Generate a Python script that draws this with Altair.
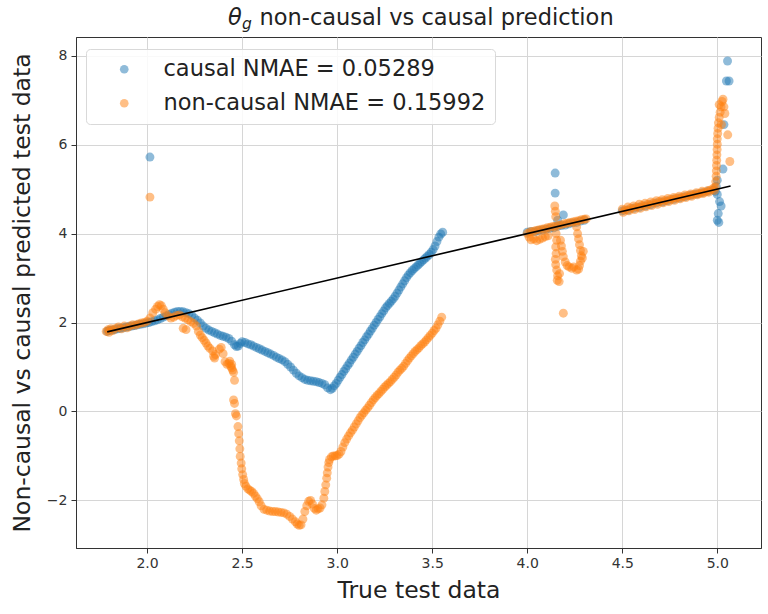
import altair as alt
import pandas as pd

CAUSAL_LABEL = "causal NMAE = 0.05289"
NONCAUSAL_LABEL = "non-causal NMAE = 0.15992"
SERIES = [CAUSAL_LABEL, NONCAUSAL_LABEL]
COLORS = ["#1f77b4", "#ff7f0e"]

x_ticks = [2.0, 2.5, 3.0, 3.5, 4.0, 4.5, 5.0]
y_ticks = [-2, 0, 2, 4, 6, 8]

# ---- causal (blue) points: (true, predicted) ----
causal_left = [(1.79,1.80),(1.80,1.82),(1.815,1.83),(1.83,1.84),(1.845,1.86),(1.86,1.87),(1.875,1.88),(1.89,1.90),
    (1.905,1.91),(1.92,1.92),(1.935,1.93),(1.95,1.95),(1.965,1.96),(1.98,1.97),(1.995,1.99),(2.01,2.00),(2.025,2.02),
    (2.04,2.04),(2.055,2.06),(2.07,2.09),(2.085,2.12),(2.10,2.15),(2.115,2.18),(2.13,2.21),(2.145,2.23),(2.16,2.25),
    (2.175,2.25),(2.19,2.24),(2.205,2.22),(2.22,2.20),(2.235,2.16),(2.25,2.10),(2.265,2.05),(2.28,1.99),(2.295,1.92)]
causal_dip = [(2.31,1.87),(2.325,1.83),(2.34,1.80),(2.355,1.77),(2.37,1.74),(2.385,1.71),(2.40,1.69),(2.415,1.67),
    (2.43,1.64),(2.445,1.58),(2.46,1.50),(2.47,1.46),(2.48,1.47),(2.49,1.53),(2.50,1.57),(2.515,1.55),(2.53,1.52),
    (2.545,1.50),(2.56,1.47),(2.575,1.44),(2.59,1.41),(2.605,1.38),(2.62,1.35),(2.635,1.32),(2.65,1.29),(2.665,1.26),
    (2.68,1.22),(2.695,1.19),(2.71,1.16),(2.725,1.12),(2.74,1.06),(2.755,1.00),(2.77,0.93),(2.785,0.86),(2.80,0.80),
    (2.815,0.76),(2.83,0.72),(2.845,0.70),(2.86,0.69),(2.875,0.68),(2.89,0.67),(2.905,0.65),(2.92,0.63),(2.935,0.60),
    (2.95,0.53),(2.965,0.49),(2.975,0.52)]
causal_rise = [(2.985,0.58),(2.995,0.63),(3.005,0.70),(3.015,0.77),(3.025,0.83),(3.035,0.90),(3.045,0.96),(3.055,1.03),
    (3.065,1.09),(3.075,1.16),(3.085,1.22),(3.095,1.29),(3.105,1.35),(3.115,1.42),(3.125,1.48),(3.135,1.55),(3.145,1.61),
    (3.155,1.68),(3.165,1.74),(3.175,1.81),(3.185,1.87),(3.195,1.94),(3.205,2.00),(3.215,2.07),(3.225,2.13),(3.235,2.20),
    (3.245,2.26),(3.255,2.33),(3.265,2.38),(3.275,2.43),(3.285,2.48),(3.295,2.53),(3.305,2.59),(3.315,2.66),(3.325,2.73),
    (3.335,2.80),(3.345,2.87),(3.355,2.94),(3.365,3.01),(3.375,3.07),(3.385,3.12),(3.395,3.17),(3.405,3.21),(3.415,3.25),
    (3.425,3.29),(3.435,3.33),(3.445,3.37),(3.455,3.41),(3.465,3.45),(3.475,3.49),(3.485,3.53),(3.495,3.58),(3.505,3.64),
    (3.515,3.72),(3.525,3.82),(3.535,3.92),(3.545,3.99),(3.555,4.03)]
causal_cluster = [(4.0,4.03),(4.02,4.05),(4.04,4.04),(4.06,4.07),(4.08,4.08),(4.10,4.10),(4.12,4.12),(4.14,4.13),
    (4.16,4.16),(4.18,4.18),(4.20,4.19),(4.22,4.22),(4.24,4.24),(4.26,4.25),(4.28,4.28),(4.30,4.30),
    (4.147,5.36),(4.147,4.91),(4.19,4.42),(4.16,4.30)]
causal_band = [(4.50,4.51),(4.53,4.53),(4.56,4.57),(4.59,4.59),(4.62,4.62),(4.65,4.65),(4.68,4.69),(4.71,4.71),
    (4.74,4.74),(4.77,4.77),(4.80,4.80),(4.83,4.83),(4.86,4.86),(4.89,4.89),(4.92,4.92),(4.95,4.95),(4.98,4.98)]
causal_spike = [(5.054,7.88),(5.048,7.43),(5.062,7.43),(5.035,6.45),(5.03,5.45),(5.0,5.2),(4.995,5.06),(4.99,4.95),
    (5.0,4.88),(5.02,4.62),(5.012,4.72),(5.005,4.45),(5.0,4.30),(5.008,4.25)]
causal_outliers = [(2.015,5.72)]

# ---- non-causal (orange) points ----
noncausal_left = [(1.785,1.80),(1.795,1.84),(1.80,1.78),(1.81,1.86),(1.82,1.82),(1.835,1.87),(1.85,1.90),(1.865,1.86),
    (1.88,1.92),(1.895,1.88),(1.91,1.92),(1.925,1.95),(1.94,1.94),(1.955,1.97),(1.97,1.99),(1.985,2.00),(2.0,2.03),
    (2.015,2.10),(2.03,2.22),(2.045,2.30),(2.055,2.36),(2.065,2.40),(2.075,2.38),(2.085,2.30),(2.095,2.22),(2.11,2.15),
    (2.125,2.10),(2.14,2.12),(2.155,2.16),(2.17,2.17),(2.185,2.13),(2.2,2.10),(2.215,2.06),(2.23,2.02),(2.245,1.98),
    (2.26,1.92),(2.19,1.87),(2.205,1.84),(2.27,1.80)]
noncausal_drop = [(2.28,1.72),(2.29,1.66),(2.30,1.60),(2.31,1.54),(2.32,1.47),(2.33,1.42),(2.345,1.36),(2.35,1.24),
    (2.355,1.20),(2.36,1.28),(2.38,1.40),(2.39,1.44),(2.40,1.30),(2.41,1.12),(2.42,1.06),(2.43,1.08),(2.435,1.13),
    (2.44,1.02),(2.445,0.98),(2.45,0.93),(2.455,0.88),(2.445,1.06),(2.46,0.70),(2.455,0.26),(2.46,0.18),(2.465,-0.05),
    (2.47,-0.10),(2.478,-0.34),(2.482,-0.50),(2.485,-0.66),(2.488,-0.84),(2.49,-1.01),(2.495,-1.16),(2.498,-1.29),
    (2.503,-1.42),(2.508,-1.53)]
noncausal_bottom = [(2.512,-1.62),(2.52,-1.68),(2.53,-1.74),(2.54,-1.77),(2.55,-1.80),(2.56,-1.84),(2.57,-1.90),
    (2.58,-1.96),(2.59,-2.03),(2.60,-2.12),(2.615,-2.20),(2.63,-2.22),(2.645,-2.24),(2.66,-2.25),(2.675,-2.25),
    (2.69,-2.26),(2.705,-2.27),(2.72,-2.28),(2.735,-2.31),(2.75,-2.36),(2.765,-2.42),(2.78,-2.48),(2.79,-2.53),
    (2.80,-2.56),(2.81,-2.55),(2.82,-2.42),(2.83,-2.25),(2.84,-2.12),(2.85,-2.02),(2.86,-2.00),(2.87,-2.08),
    (2.88,-2.18),(2.89,-2.22),(2.90,-2.19),(2.91,-2.17),(2.92,-2.10),(2.93,-1.95),(2.935,-1.80),(2.94,-1.65),
    (2.945,-1.50),(2.948,-1.38),(2.952,-1.25),(2.956,-1.15),(2.96,-1.08),(2.97,-1.02),(2.98,-1.00),(2.99,-1.00)]
noncausal_rise = [(3.00,-0.99),(3.01,-0.96),(3.02,-0.90),(3.03,-0.80),(3.04,-0.70),(3.05,-0.62),(3.06,-0.55),
    (3.07,-0.48),(3.08,-0.42),(3.09,-0.35),(3.10,-0.28),(3.11,-0.21),(3.12,-0.14),(3.13,-0.08),(3.14,-0.03),
    (3.15,0.03),(3.16,0.08),(3.17,0.14),(3.18,0.20),(3.19,0.26),(3.20,0.31),(3.21,0.36),(3.22,0.40),(3.23,0.45),
    (3.24,0.50),(3.25,0.55),(3.26,0.59),(3.27,0.63),(3.28,0.67),(3.29,0.72),(3.30,0.77),(3.31,0.82),(3.32,0.88),
    (3.33,0.93),(3.34,0.97),(3.35,1.02),(3.36,1.08),(3.37,1.14),(3.38,1.20),(3.39,1.25),(3.40,1.30),(3.41,1.35),
    (3.42,1.39),(3.43,1.43),(3.44,1.48),(3.45,1.52),(3.46,1.56),(3.47,1.61),(3.48,1.66),(3.49,1.71),(3.50,1.76),
    (3.51,1.82),(3.52,1.87),(3.53,1.95),(3.54,2.03),(3.55,2.12)]
noncausal_cluster = [(4.00,4.00),(4.015,4.04),(4.03,4.05),(4.045,4.07),(4.06,4.08),(4.075,4.10),(4.09,4.11),
    (4.105,4.13),(4.12,4.14),(4.135,4.16),(4.15,4.17),(4.165,4.19),(4.18,4.20),(4.195,4.22),(4.21,4.23),(4.225,4.25),
    (4.24,4.26),(4.255,4.28),(4.27,4.29),(4.285,4.31),(4.30,4.32),(4.31,4.33),
    (4.01,3.92),(4.02,3.86),(4.035,3.88),(4.05,3.84),(4.065,3.87),(4.08,3.90),(4.095,3.93),(4.11,3.95),
    (4.145,4.62),(4.148,4.50),(4.15,4.38),(4.152,4.00),(4.155,3.85),(4.15,3.70),(4.152,3.55),(4.148,3.42),
    (4.15,3.30),(4.155,3.18),(4.16,3.05),(4.158,2.95),(4.168,2.92),(4.17,3.10),
    (4.175,3.85),(4.18,3.72),(4.185,3.60),(4.19,3.48),(4.20,3.36),(4.21,3.28),(4.22,3.25),(4.235,3.22),(4.245,3.25),
    (4.26,4.15),(4.265,4.00),(4.27,3.88),(4.275,3.75),(4.28,3.62),(4.285,3.50),(4.28,3.38),(4.275,3.28),
    (4.27,3.20),(4.26,3.18),(4.29,3.45),(4.295,3.60),(4.19,2.21)]
noncausal_band = [(4.50,4.55),(4.515,4.53),(4.53,4.60),(4.545,4.57),(4.56,4.62),(4.575,4.60),(4.59,4.66),(4.605,4.63),
    (4.62,4.68),(4.635,4.66),(4.65,4.71),(4.665,4.69),(4.68,4.74),(4.695,4.72),(4.71,4.76),(4.725,4.74),(4.74,4.79),
    (4.755,4.77),(4.77,4.81),(4.785,4.80),(4.80,4.84),(4.815,4.82),(4.83,4.87),(4.845,4.85),(4.86,4.89),(4.875,4.88),
    (4.89,4.92),(4.905,4.90),(4.92,4.95),(4.935,4.93),(4.95,4.97),(4.965,4.98),(4.98,5.02),
    (4.505,4.48),(4.535,4.51),(4.565,4.54),(4.595,4.57),(4.625,4.60),(4.655,4.63),(4.685,4.66),(4.715,4.69),
    (4.745,4.72),(4.775,4.75),(4.805,4.78),(4.835,4.81),(4.865,4.84),(4.895,4.87),(4.925,4.90),(4.955,4.93),(4.985,4.97)]
noncausal_spike = [(4.99,5.05),(4.992,5.17),(4.994,5.29),(4.995,5.41),(4.996,5.53),(4.997,5.65),(4.998,5.77),
    (4.999,5.89),(5.0,6.01),(5.0,6.13),(5.002,6.25),(5.004,6.37),(5.006,6.49),(5.01,6.61),(5.015,6.73),(5.02,6.85),
    (5.025,6.97),(5.03,7.02),(5.022,6.45),(5.04,6.70),(5.055,6.22),(5.066,5.62),(5.035,6.85),(5.01,6.90)]
noncausal_outliers = [(2.015,4.82)]

# identity reference line (true = predicted)
line_x = [1.79, 5.07]
line_y = [1.79, 5.07]

causal_segments = [causal_left, causal_dip, causal_rise, causal_cluster, causal_band, causal_spike, causal_outliers]
noncausal_segments = [noncausal_left, noncausal_drop, noncausal_bottom, noncausal_rise, noncausal_cluster,
                      noncausal_band, noncausal_spike, noncausal_outliers]

rows = []
for seg in causal_segments:
    for x, y in seg:
        rows.append({"true": x, "pred": y, "series": CAUSAL_LABEL})
for seg in noncausal_segments:
    for x, y in seg:
        rows.append({"true": x, "pred": y, "series": NONCAUSAL_LABEL})
df = pd.DataFrame(rows)
line_df = pd.DataFrame({"true": line_x, "pred": line_y})

FONT = "DejaVu Sans"
x_scale = alt.Scale(domain=[1.626, 5.23], nice=False, zero=False)
y_scale = alt.Scale(domain=[-3.07, 8.42], nice=False, zero=False)

points = alt.Chart(df).mark_circle(size=80, opacity=0.5).encode(
    x=alt.X("true:Q", scale=x_scale,
            axis=alt.Axis(values=x_ticks, format=".1f", title="True test data")),
    y=alt.Y("pred:Q", scale=y_scale,
            axis=alt.Axis(values=y_ticks, format="d", title="Non-causal vs causal predicted test data")),
    color=alt.Color("series:N", scale=alt.Scale(domain=SERIES, range=COLORS),
                    legend=alt.Legend(orient="none", legendX=10, legendY=12, title=None,
                                      labelFontSize=22.5, labelFont=FONT, labelColor="#222", labelLimit=0,
                                      symbolType="circle", symbolSize=75, symbolOpacity=0.5,
                                      symbolStrokeWidth=0, padding=9, symbolOffset=18,
                                      labelOffset=28, rowPadding=11,
                                      strokeColor="#d9d9d9", fillColor="rgba(255,255,255,0.85)",
                                      cornerRadius=4)),
)

ref_line = alt.Chart(line_df).mark_line(color="black", strokeWidth=1.6).encode(
    x=alt.X("true:Q", scale=x_scale), y=alt.Y("pred:Q", scale=y_scale)
)

title_theta = alt.Chart(pd.DataFrame({"t": ["θ"]})).mark_text(
    align="left", baseline="alphabetic", fontSize=22.5, fontStyle="italic", font=FONT, color="#222"
).encode(x=alt.value(152), y=alt.value(-12), text="t:N")
title_g = alt.Chart(pd.DataFrame({"t": ["g"]})).mark_text(
    align="left", baseline="alphabetic", fontSize=15.5, fontStyle="italic", font=FONT, color="#222"
).encode(x=alt.value(166), y=alt.value(-8), text="t:N")
title_main = alt.Chart(pd.DataFrame({"t": ["non-causal vs causal prediction"]})).mark_text(
    align="left", baseline="alphabetic", fontSize=22.5, font=FONT, color="#222"
).encode(x=alt.value(183.5), y=alt.value(-12), text="t:N")

chart = alt.layer(points, ref_line, title_theta, title_g, title_main).properties(
    width=685, height=511,
    autosize=alt.AutoSizeParams(type="none"),
    padding={"left": 76, "top": 37, "right": 7, "bottom": 66},
).configure_axis(
    labelFont=FONT, titleFont=FONT, labelFontSize=14, titleFontSize=23.5, titleFontWeight="normal",
    labelColor="#333", titleColor="#222", gridColor="#d6d6d6", gridWidth=1,
    domainColor="#333", tickColor="#333", tickSize=5,
).configure_axisX(labelPadding=3, titlePadding=8).configure_axisY(labelPadding=4, titlePadding=12).configure_view(
    stroke="#333", strokeWidth=1
)

chart.save("out.html", embed_options={"renderer": "svg", "actions": False})
